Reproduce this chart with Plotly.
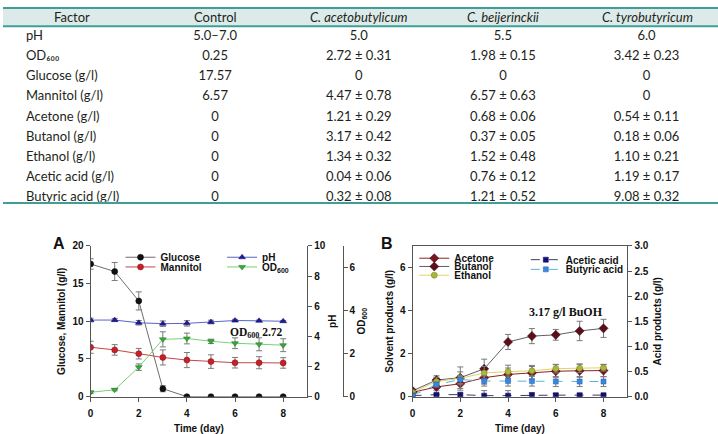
import plotly.graph_objects as go

W, H = 718, 434

# ---------------- table data ----------------
factors = ["pH", "OD₆₀₀", "Glucose (g/l)", "Mannitol (g/l)", "Acetone (g/l)",
           "Butanol (g/l)", "Ethanol (g/l)", "Acetic acid (g/l)", "Butyric acid (g/l)"]
control = ["5.0–7.0", "0.25", "17.57", "6.57", "0", "0", "0", "0", "0"]
acetobutylicum = ["5.0", "2.72 ± 0.31", "0", "4.47 ± 0.78", "1.21 ± 0.29", "3.17 ± 0.42",
                  "1.34 ± 0.32", "0.04 ± 0.06", "0.32 ± 0.08"]
beijerinckii = ["5.5", "1.98 ± 0.15", "0", "6.57 ± 0.63", "0.68 ± 0.06", "0.37 ± 0.05",
                "1.52 ± 0.48", "0.76 ± 0.12", "1.21 ± 0.52"]
tyrobutyricum = ["6.0", "3.42 ± 0.23", "0", "0", "0.54 ± 0.11", "0.18 ± 0.06",
                 "1.10 ± 0.21", "1.19 ± 0.17", "9.08 ± 0.32"]
headers = ["Factor", "Control", "C. acetobutylicum", "C. beijerinckii", "C. tyrobutyricum"]
header_styles = ["normal", "normal", "italic", "italic", "italic"]

# ---------------- chart A data ----------------
days = [0, 1, 2, 3, 4, 5, 6, 7, 8]
glucose = [17.6, 16.6, 12.7, 1.05, 0, 0, 0, 0, 0]
glucose_err = [0.7, 1.2, 1.2, 0.4, 0, 0, 0, 0, 0]
mannitol = [6.55, 6.2, 5.7, 5.2, 4.85, 4.65, 4.5, 4.5, 4.47]
mannitol_err = [0.8, 0.7, 0.7, 1.0, 1.0, 0.9, 0.7, 0.8, 0.7]
ph = [5.08, 5.08, 4.9, 4.84, 4.86, 4.95, 5.05, 5.03, 5.0]
ph_err = [0.12, 0.1, 0.15, 0.18, 0.18, 0.12, 0.08, 0.05, 0.05]
od600 = [0.2, 0.32, 1.37, 2.66, 2.7, 2.57, 2.48, 2.43, 2.39]
od600_err = [0.05, 0.05, 0.15, 0.35, 0.25, 0.1, 0.25, 0.3, 0.3]

# ---------------- chart B data ----------------
acetone = [0.2, 0.45, 0.6, 0.88, 1.03, 1.1, 1.18, 1.2, 1.21]
acetone_err = [0.05, 0.15, 0.3, 0.3, 0.3, 0.3, 0.3, 0.3, 0.29]
butanol = [0.27, 0.77, 0.88, 1.29, 2.54, 2.81, 2.87, 3.05, 3.17]
butanol_err = [0.05, 0.2, 0.5, 0.45, 0.35, 0.35, 0.25, 0.45, 0.42]
ethanol = [0.2, 0.7, 0.85, 1.1, 1.16, 1.2, 1.3, 1.32, 1.34]
ethanol_err = [0.05, 0.2, 0.3, 0.3, 0.3, 0.25, 0.2, 0.2, 0.15]
acetic = [0.02, 0.04, 0.04, 0.02, 0.02, 0.03, 0.03, 0.03, 0.03]
acetic_err = [0.01, 0.02, 0.03, 0.1, 0.1, 0.05, 0.03, 0.03, 0.02]
butyric = [0.02, 0.24, 0.34, 0.31, 0.31, 0.31, 0.3, 0.3, 0.3]
butyric_err = [0.01, 0.05, 0.08, 0.1, 0.1, 0.1, 0.1, 0.1, 0.1]

def px(x):
    return x / W

def py(y):
    return 1 - y / H

AX = "Liberation Sans"
SERIF = "Liberation Serif"
ERRC = "#7a7a7a"
TXT = "#231f20"
CLEAR = "rgba(0,0,0,0)"

fig = go.Figure()

# ---------------- table ----------------
col_widths = [15, 122, 4, 144, 144.5, 145, 143.5]
col_centers = [69, 213, 357, 502, 647]
cells = [[""] * 9, factors, [""] * 9, control, acetobutylicum, beijerinckii, tyrobutyricum]
fig.add_trace(go.Table(
    domain=dict(x=[0, 1], y=[py(206), 1]),
    columnwidth=col_widths,
    header=dict(values=[], height=1, fill_color=CLEAR, line=dict(color=CLEAR, width=0)),
    cells=dict(values=cells, height=20.2, fill_color=CLEAR,
               line=dict(color=CLEAR, width=0),
               align=["left", "left", "center", "center", "center", "center", "center"],
               font=dict(family="Lato", size=13, color=TXT)),
))

# ---------------- chart A traces ----------------
def err(arr, color=ERRC):
    return dict(type="data", array=arr, visible=True, color=color, thickness=1, width=3)

MS = 6
fig.add_trace(go.Scatter(x=days, y=glucose, name="Glucose", mode="lines+markers",
                         xaxis="x", yaxis="y", error_y=err(glucose_err),
                         line=dict(color="#6e6e6e", width=1),
                         marker=dict(symbol="circle", size=MS, color="#111111",
                                     line=dict(color="#000000", width=0.5)),
                         legend="legend"))
fig.add_trace(go.Scatter(x=days, y=mannitol, name="Mannitol", mode="lines+markers",
                         xaxis="x", yaxis="y", error_y=err(mannitol_err),
                         line=dict(color="#c04848", width=1),
                         marker=dict(symbol="circle", size=MS, color="#c8202a",
                                     line=dict(color="#801010", width=0.5)),
                         legend="legend2"))
fig.add_trace(go.Scatter(x=days, y=ph, name="pH", mode="lines+markers",
                         xaxis="x", yaxis="y2", error_y=err(ph_err),
                         line=dict(color="#5a64c8", width=1),
                         marker=dict(symbol="triangle-up", size=MS, color="#1a1a9a",
                                     line=dict(color="#10106a", width=0.5)),
                         legend="legend3"))
fig.add_trace(go.Scatter(x=days, y=od600, name="OD<sub>600</sub>", mode="lines+markers",
                         xaxis="x", yaxis="y3", error_y=err(od600_err),
                         line=dict(color="#78d078", width=1),
                         marker=dict(symbol="triangle-down", size=MS, color="#3aa83a",
                                     line=dict(color="#1a701a", width=0.5)),
                         legend="legend4"))

# ---------------- chart B traces ----------------
fig.add_trace(go.Scatter(x=days, y=acetone, name="Acetone", mode="lines+markers",
                         xaxis="x2", yaxis="y4", error_y=err(acetone_err),
                         line=dict(color="#8a2424", width=1),
                         marker=dict(symbol="diamond", size=MS + 1, color="#7a1520",
                                     line=dict(color="#4a0a10", width=0.5)),
                         legend="legend5"))
fig.add_trace(go.Scatter(x=days, y=butanol, name="Butanol", mode="lines+markers",
                         xaxis="x2", yaxis="y4", error_y=err(butanol_err),
                         line=dict(color="#606060", width=1),
                         marker=dict(symbol="diamond", size=MS + 1, color="#5a0f1a",
                                     line=dict(color="#3a0a10", width=0.5)),
                         legend="legend6"))
fig.add_trace(go.Scatter(x=days, y=ethanol, name="Ethanol", mode="lines+markers",
                         xaxis="x2", yaxis="y4", error_y=err(ethanol_err),
                         line=dict(color="#e2d26a", width=1),
                         marker=dict(symbol="circle", size=MS, color="#aab83a",
                                     line=dict(color="#707a20", width=0.5)),
                         legend="legend7"))
fig.add_trace(go.Scatter(x=days, y=acetic, name="Acetic acid", mode="lines+markers",
                         xaxis="x2", yaxis="y5", error_y=err(acetic_err),
                         line=dict(color="#3a3a6a", width=1, dash="dash"),
                         marker=dict(symbol="square", size=MS - 1, color="#10107a",
                                     line=dict(color="#08084a", width=0.5)),
                         legend="legend8"))
fig.add_trace(go.Scatter(x=days, y=butyric, name="Butyric acid", mode="lines+markers",
                         xaxis="x2", yaxis="y5", error_y=err(butyric_err),
                         line=dict(color="#5ab4d8", width=1, dash="dash"),
                         marker=dict(symbol="square", size=MS - 1, color="#3a86e0",
                                     line=dict(color="#2060b0", width=0.5)),
                         legend="legend9"))

tickfont = dict(family=AX, size=10, color="#111111", weight="bold")
titlefont = dict(family=AX, size=10, color="#111111", weight="bold")
axline = dict(showline=True, linecolor="#555555", linewidth=1, ticks="outside",
              ticklen=4, tickcolor="#555555", showgrid=False, zeroline=False,
              tickfont=tickfont)

ydom = [py(402.7), py(247.3)]

layout_legend = dict(bgcolor="rgba(0,0,0,0)", borderwidth=0, itemwidth=30,
                     font=dict(family=AX, size=10, color="#111111", weight="bold"),
                     xanchor="left", yanchor="middle", tracegroupgap=0)

def leg(x, y):
    d = dict(layout_legend)
    d.update(x=px(x), y=py(y))
    return d

fig.update_layout(
    width=W, height=H, margin=dict(l=0, r=0, t=0, b=0),
    paper_bgcolor="white", plot_bgcolor="white",
    showlegend=True,
    xaxis=dict(domain=[px(88), px(305.5)], range=[0, 9], anchor="y",
               tickvals=[0, 2, 4, 6, 8], ticklabelstandoff=3, **axline,
               title=dict(text="Time (day)", font=titlefont, standoff=8)),
    yaxis=dict(domain=ydom, range=[0, 20], anchor="x", tickvals=[0, 5, 10, 15, 20], **axline,
               title=dict(text="Glucose, Mannitol (g/l)", font=titlefont, standoff=4)),
    yaxis2=dict(range=[0, 10], overlaying="y", side="right", anchor="x",
                tickvals=[0, 2, 4, 6, 8, 10], **axline,
                title=dict(text="pH", font=titlefont, standoff=4)),
    yaxis3=dict(range=[0, 7], overlaying="y", side="right", anchor="free",
                position=px(341), tickvals=[0, 2, 4, 6], **axline,
                title=dict(text="OD<sub>600</sub>", font=titlefont, standoff=2)),
    xaxis2=dict(domain=[px(411.3), px(627)], range=[0, 9], anchor="y4",
                tickvals=[0, 2, 4, 6, 8], mirror=True, ticklabelstandoff=3, **axline,
                title=dict(text="Time (day)", font=titlefont, standoff=8)),
    yaxis4=dict(domain=ydom, range=[0, 7], anchor="x2", tickvals=[0, 2, 4, 6], **axline,
                title=dict(text="Solvent products (g/l)", font=titlefont, standoff=4)),
    yaxis5=dict(range=[0, 3], overlaying="y4", side="right", anchor="x2",
                tickvals=[0, 0.5, 1, 1.5, 2, 2.5, 3], tickformat=".1f", **axline,
                title=dict(text="Acid products (g/l)", font=titlefont, standoff=6)),
    legend=leg(118, 259), legend2=leg(118, 269),
    legend3=leg(220, 259), legend4=leg(220, 269),
    legend5=leg(413, 260), legend6=leg(413, 268.5), legend7=leg(413, 277.5),
    legend8=leg(525, 261.5), legend9=leg(525, 271.5),
)

# table header band and rules
fig.add_shape(type="rect", xref="paper", yref="paper", x0=0, x1=1, y0=py(21), y1=py(2),
              fillcolor="#dcebea", line=dict(width=0), layer="below")
for yy in [2, 21, 203]:
    fig.add_shape(type="line", xref="paper", yref="paper", x0=0, x1=1, y0=py(yy), y1=py(yy),
                  line=dict(color="#3f9f98", width=2))

# header labels
for htxt, hx, hs in zip(headers, col_centers, header_styles):
    fig.add_annotation(text=htxt, xref="paper", yref="paper", x=px(hx), y=py(11.5),
                       xanchor="center", yanchor="middle", showarrow=False,
                       font=dict(family="Lato", size=13, color=TXT, style=hs))

# annotations
def ann(text, x, y, font):
    fig.add_annotation(text=text, xref="paper", yref="paper", x=px(x), y=py(y),
                       xanchor="center", yanchor="middle", showarrow=False, font=font)

ann("A", 56, 245, dict(family=AX, size=16, color="#111111", weight="bold"))
ann("B", 386, 245, dict(family=AX, size=16, color="#111111", weight="bold"))
ann("OD<sub>600</sub> 2.72", 255, 337, dict(family=SERIF, size=11.5, color="#111111", weight="bold"))
ann("3.17 g/l BuOH", 565, 315, dict(family=SERIF, size=12, color="#111111", weight="bold"))

fig.write_html("out.html")
